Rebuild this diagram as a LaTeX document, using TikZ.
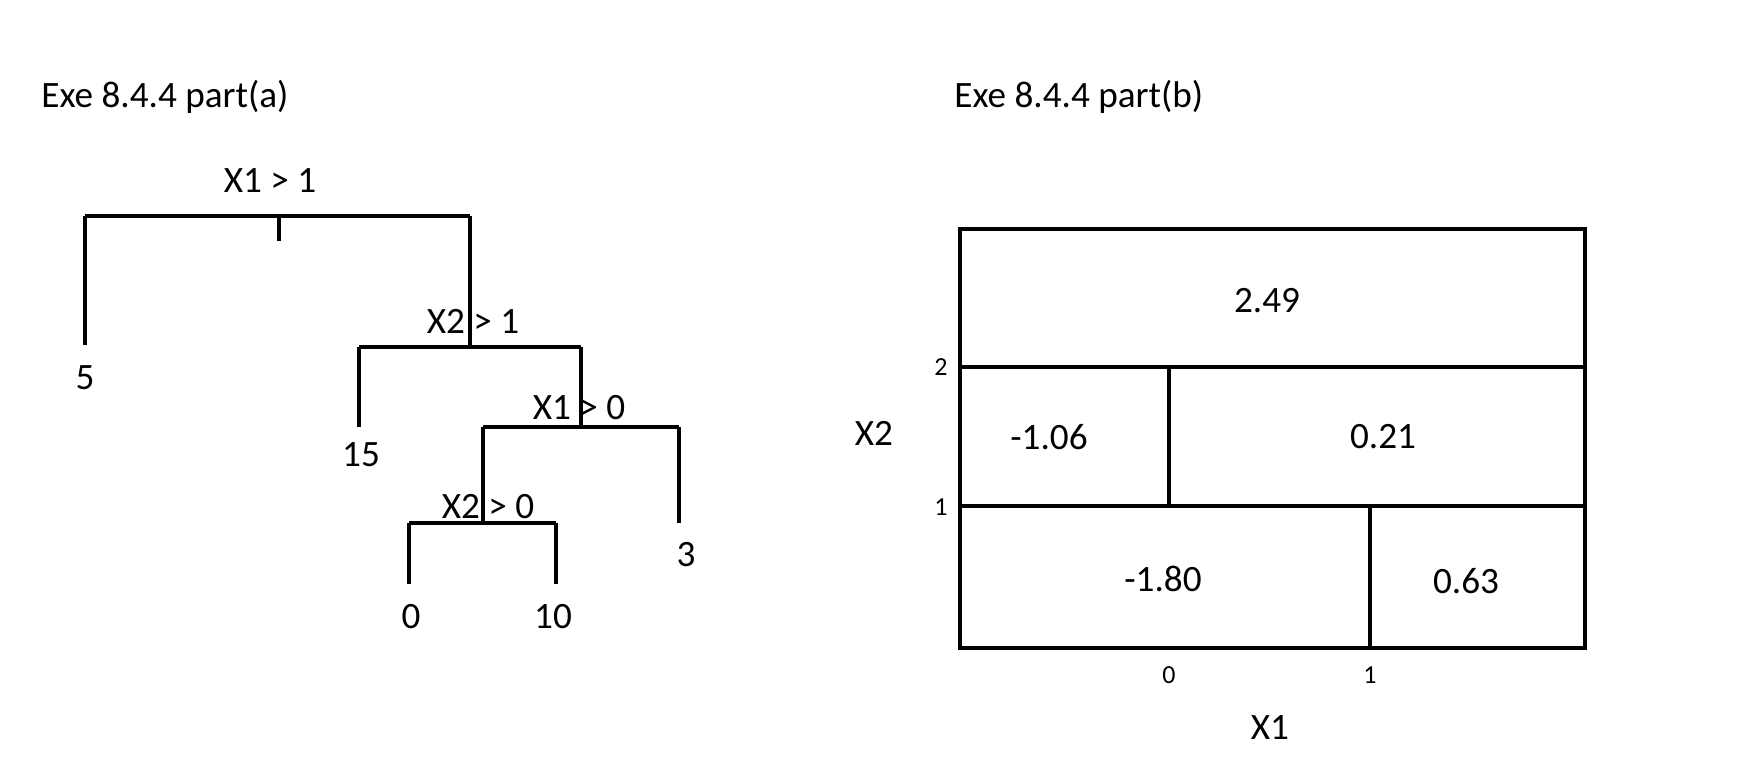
\documentclass[tikz,border=0pt]{standalone}
\usepackage{fontspec}
\setmainfont{Carlito}
\begin{document}
\begin{tikzpicture}[x=0.5pt,y=-0.5pt,
  ln/.style={line width=1.6pt},
  lbl/.style={font=\fontsize{18.6}{22}\selectfont, inner sep=0pt},
  tick/.style={font=\fontsize{13}{15}\selectfont, inner sep=0pt}]
\useasboundingbox (0,0) rectangle (1754,782);
% ---------- part (a) ----------
\node[lbl, anchor=west] (ta) at (41,97) {Exe 8.4.4 part(a)};
\node[lbl] (s1) at (270,181) {X1 > 1};
\coordinate (a1) at (85,216);
\coordinate (a2) at (470,216);
\coordinate (a3) at (279,216);
\coordinate (a4) at (279,241);
\draw[ln] (a1) -- (a2);
\draw[ln] (a3) -- (a4);
\coordinate (l5) at (85,345);
\draw[ln] (a1) -- (l5);
\node[lbl] (v5) at (85,378) {5};
\coordinate (b1) at (359,347);
\coordinate (b2) at (581,347);
\coordinate (bm) at (470,347);
\draw[ln] (a2) -- (bm);
\draw[ln] (b1) -- (b2);
\node[lbl] (s2) at (473,321) {X2 > 1};
\coordinate (l15) at (359,427);
\draw[ln] (b1) -- (l15);
\node[lbl] (v15) at (361,455) {15};
\coordinate (c1) at (483,427);
\coordinate (c2) at (679,427);
\coordinate (cm) at (581,427);
\draw[ln] (b2) -- (cm);
\draw[ln] (c1) -- (c2);
\node[lbl] (s3) at (579,408) {X1 > 0};
\coordinate (l3) at (679,523);
\draw[ln] (c2) -- (l3);
\node[lbl] (v3) at (686,555) {3};
\coordinate (d1) at (409,523);
\coordinate (d2) at (556,523);
\coordinate (dm) at (483,523);
\draw[ln] (c1) -- (dm);
\draw[ln] (d1) -- (d2);
\node[lbl] (s4) at (488,507) {X2 > 0};
\coordinate (l0) at (409,584);
\coordinate (l10) at (556,584);
\draw[ln] (d1) -- (l0);
\draw[ln] (d2) -- (l10);
\node[lbl] (v0) at (411,617) {0};
\node[lbl] (v10) at (553,617) {10};
% ---------- part (b) ----------
\node[lbl, anchor=west] (tb) at (954,97) {Exe 8.4.4 part(b)};
\coordinate (p1) at (960,229);
\coordinate (p2) at (1585,648);
\draw[ln] (p1) rectangle (p2);
\coordinate (h1l) at (960,367);
\coordinate (h1r) at (1585,367);
\coordinate (h2l) at (960,506);
\coordinate (h2r) at (1585,506);
\draw[ln] (h1l) -- (h1r);
\draw[ln] (h2l) -- (h2r);
\coordinate (u1) at (1169,367);
\coordinate (u2) at (1169,506);
\draw[ln] (u1) -- (u2);
\coordinate (w1) at (1370,506);
\coordinate (w2) at (1370,648);
\draw[ln] (w1) -- (w2);
\node[lbl] (r1) at (1267,301) {2.49};
\node[lbl] (r2) at (1049,437) {-1.06};
\node[lbl] (r3) at (1383,437) {0.21};
\node[lbl] (r4) at (1163,579) {-1.80};
\node[lbl] (r5) at (1466,581) {0.63};
\node[tick] (y2) at (941,367) {2};
\node[tick] (y1) at (941,507) {1};
\node[tick] (x0) at (1169,675) {0};
\node[tick] (x1) at (1370,675) {1};
\node[lbl] (ax2) at (874,433) {X2};
\node[lbl] (ax1) at (1270,728) {X1};
\end{tikzpicture}
\end{document}
